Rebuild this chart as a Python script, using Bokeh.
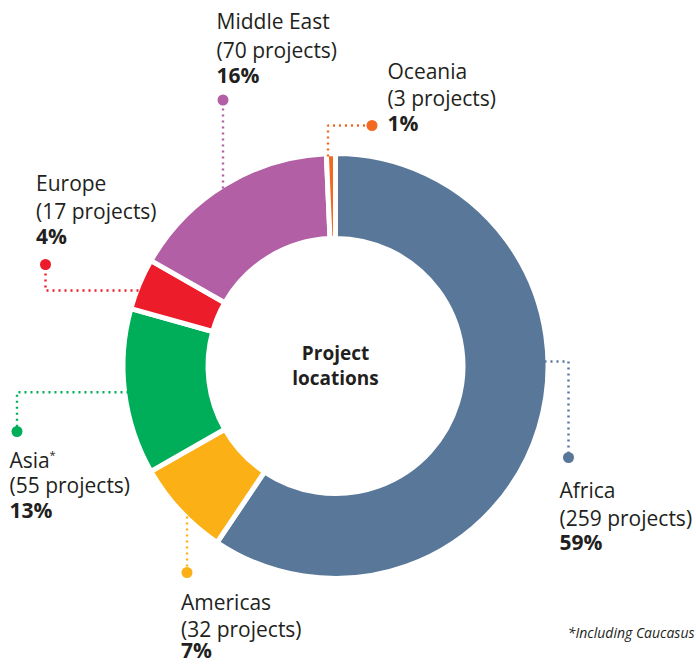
import numpy as np
from bokeh.plotting import figure
from bokeh.models import Range1d, ColumnDataSource
from bokeh.core.properties import value
from bokeh.embed import file_html
from bokeh.resources import INLINE

# ---- data ----
regions = ["Africa", "Americas", "Asia", "Europe", "Middle East", "Oceania"]
projects = [259, 32, 55, 17, 70, 3]
percent_labels = ["59%", "7%", "13%", "4%", "16%", "1%"]
name_labels = ["Africa", "Americas", "Asia*", "Europe", "Middle East", "Oceania"]
colors = ["#587799", "#FBB116", "#00AE5A", "#EC1C2A", "#B25FA5", "#F26A21"]
center_title = ["Project", "locations"]
footnote = "*Including Caucasus"

# ---- layout (screen pixels in the 696x664 page) ----
W, H = 696, 664
def Y(sy):
    return H - sy

def TB(sy, fs):
    # text anchor for a wanted baseline (svg alphabetic renders ~0.38em low)
    return Y(sy - 0.38 * fs)

CX, CY = 335, 365.5
R_OUT, R_IN = 210, 130
GAP = 5

FONT = "Open Sans"
TXT = "#231f20"
FSN = 21
FS = f"{FSN}px"

# label positions: x, baselines of 3 lines
label_pos = {
    "Africa": (559, [497.7, 525, 549]),
    "Americas": (180.5, [609.5, 636, 657]),
    "Asia": (9, [467, 492, 517]),
    "Europe": (35.5, [190, 218, 243]),
    "Middle East": (216, [28, 57, 82]),
    "Oceania": (387, [78, 105, 130]),
}
# leader lines: list of screen points, last point is the dot
leaders = {
    "Africa": [(478, 361), (568, 361), (568, 457)],
    "Americas": [(186.5, 510), (186.5, 572)],
    "Asia": [(128, 391.7), (16.5, 391.7), (16.5, 431)],
    "Europe": [(138, 290), (45, 290), (45, 264)],
    "Middle East": [(222.5, 188), (222.5, 99.5)],
    "Oceania": [(327.5, 156), (327.5, 125), (371.5, 125)],
}

p = figure(width=W, height=H, output_backend="svg", toolbar_location=None,
           x_range=Range1d(0, W), y_range=Range1d(0, H),
           min_border=0)
p.axis.visible = False
p.grid.visible = False
p.outline_line_color = None
p.background_fill_color = "white"

total = sum(projects)
fr = np.array(projects) / total
cum = np.concatenate([[0], np.cumsum(fr)[:-1]])
start = np.deg2rad(90 - cum * 360)
end = np.deg2rad(90 - (cum + fr) * 360)

src = ColumnDataSource(dict(start=start, end=end, color=colors, region=regions))
p.annular_wedge(x=CX, y=Y(CY), inner_radius=R_IN - GAP / 2, outer_radius=R_OUT + GAP / 2,
                start_angle="start", end_angle="end", direction="clock",
                fill_color="color", line_color="white", line_width=GAP, source=src)

for i, reg in enumerate(regions):
    pts = leaders[reg]
    xs = [a for a, b in pts]
    ys = [Y(b) for a, b in pts]
    p.line(xs, ys, line_color=colors[i], line_width=2.4, line_dash="2 4")
    p.scatter([xs[-1]], [ys[-1]], size=11, marker="circle", fill_color=colors[i],
              line_color=None)
    lx, bl = label_pos[reg]
    nm = name_labels[i]
    if nm.endswith("*"):
        p.text([lx], [TB(bl[0], FSN)], text=[nm[:-1]], text_font=value(FONT), text_font_size=FS,
               text_color=TXT, text_baseline="alphabetic")
        p.text([lx + 40], [TB(bl[0] - 9, 11)], text=["*"], text_font=value(FONT),
               text_font_size="11px", text_color=TXT, text_baseline="alphabetic")
    else:
        p.text([lx], [TB(bl[0], FSN)], text=[nm], text_font=value(FONT), text_font_size=FS,
               text_color=TXT, text_baseline="alphabetic")
    p.text([lx], [TB(bl[1], FSN)], text=[f"({projects[i]} projects)"], text_font=value(FONT),
           text_font_size=FS, text_color=TXT, text_baseline="alphabetic")
    p.text([lx], [TB(bl[2], FSN)], text=[percent_labels[i]], text_font=value(FONT),
           text_font_size=FS, text_font_style="bold", text_color=TXT,
           text_baseline="alphabetic")

p.text([CX], [TB(360, 19)], text=[center_title[0]], text_font=value(FONT), text_font_size="19px",
       text_font_style="bold", text_color=TXT, text_align="center", text_baseline="alphabetic")
p.text([CX], [TB(385, 19)], text=[center_title[1]], text_font=value(FONT), text_font_size="19px",
       text_font_style="bold", text_color=TXT, text_align="center", text_baseline="alphabetic")

p.text([694], [TB(637, 14)], text=[footnote], text_font=value(FONT), text_font_size="14px",
       text_font_style="italic", text_color=TXT, text_align="right", text_baseline="alphabetic")

open("out.html", "w").write(file_html(p, INLINE))
